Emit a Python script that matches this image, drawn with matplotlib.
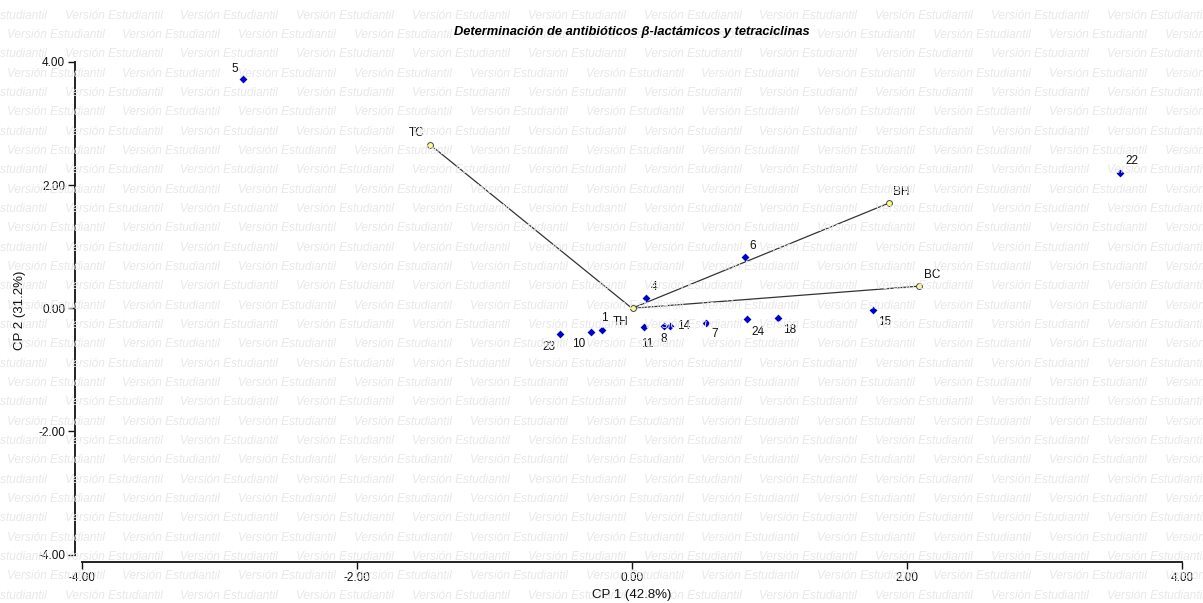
import numpy as np
import matplotlib
matplotlib.use("Agg")
import matplotlib.pyplot as plt

plt.rcParams['font.family'] = ['Liberation Sans', 'DejaVu Sans']

# observaciones (puntajes CP1, CP2)
obs_labels = ['5', '22', '6', '4', '15', '23', '10', '1', '11', '8', '14', '7', '24', '18']
obs_cp1 = [-2.83, 3.55, 0.82, 0.10, 1.75, -0.52, -0.30, -0.22, 0.09, 0.23, 0.28, 0.54, 0.84, 1.06]
obs_cp2 = [3.72, 2.20, 0.83, 0.16, -0.02, -0.41, -0.38, -0.36, -0.30, -0.29, -0.29, -0.24, -0.18, -0.15]

# variables (cargas)
var_labels = ['TC', 'BH', 'BC', 'TH']
var_cp1 = [-1.47, 1.87, 2.09, 0.005]
var_cp2 = [2.66, 1.71, 0.36, 0.0]

title = 'Determinación de antibióticos β-lactámicos y tetraciclinas'
xlabel = 'CP 1 (42.8%)'
ylabel = 'CP 2 (31.2%)'
ticks = [-4, -2, 0, 2, 4]

# label offsets in pixels
obs_off = {'5': (-8, 10), '22': (12, 12), '6': (8, 11), '4': (8, 11), '15': (12, -12),
           '23': (-12, -13), '10': (-12, -12), '1': (3, 12), '11': (3, -17), '8': (0, -13),
           '14': (13, 0), '7': (8, -11), '24': (11, -13), '18': (12, -12)}
var_off = {'TC': (-13, 12), 'BH': (12, 11), 'BC': (13, 11), 'TH': (-12, -14)}

W, H = 1203, 603
fig = plt.figure(figsize=(W / 100, H / 100), dpi=100)
fig.patch.set_facecolor('white')

# watermark
wm = 'Versión Estudiantil'
row = 0
y = 15.7
while y < H + 10:
    x0 = 65 if row % 2 == 0 else 7
    x = x0 - 116 * 2
    while x < W:
        fig.text(x / W, 1 - y / H, wm, fontsize=8.6, style='italic', color='#e8e8e8',
                 ha='left', va='center', zorder=0)
        x += 115.8
    y += 19.33
    row += 1

left, right, top, bottom = 75, 1185, 62, 562
ax = fig.add_axes([left / W, 1 - bottom / H, (right - left) / W, (bottom - top) / H])
ax.patch.set_alpha(0)
ax.set_xlim(-4.051, 4.022)
ax.set_ylim(-4.12, 4.0)

for s in ['top', 'right']:
    ax.spines[s].set_visible(False)
for s in ['left', 'bottom']:
    ax.spines[s].set_linewidth(1.4)
    ax.spines[s].set_color('#222222')
ax.spines['left'].set_bounds(-4, 4)
ax.spines['bottom'].set_bounds(-4, 4)

ax.set_xticks(ticks)
ax.set_yticks(ticks)
ax.set_xticklabels([f'{t:.2f}' for t in ticks])
ax.set_yticklabels([f'{t:.2f}' for t in ticks])
ax.tick_params(length=5, width=1, colors='#111111', labelsize=8.5, pad=2)

# vectores
for vx, vy in zip(var_cp1, var_cp2):
    ax.plot([0, vx], [0, vy], color='#333333', lw=0.9, zorder=2)

ax.scatter(obs_cp1, obs_cp2, marker='D', s=16, color='#0000cc', zorder=3, linewidths=0)
ax.scatter(var_cp1, var_cp2, marker='o', s=18, facecolor='#ffff88', edgecolor='#444444',
           linewidths=0.7, zorder=4)

for lab, vx, vy in zip(obs_labels, obs_cp1, obs_cp2):
    ax.annotate(lab, (vx, vy), xytext=obs_off[lab], textcoords='offset pixels',
                ha='center', va='center', fontsize=8.5, color='#111111', zorder=5)
for lab, vx, vy in zip(var_labels, var_cp1, var_cp2):
    ax.annotate(lab, (vx, vy), xytext=var_off[lab], textcoords='offset pixels',
                ha='center', va='center', fontsize=8.5, color='#111111', zorder=5)

fig.text(632 / W, 1 - 32 / H, title, fontsize=9.3, weight='bold', style='italic',
         ha='center', va='center', color='#000000')
fig.text(632 / W, 1 - 595 / H, xlabel, fontsize=9.5, ha='center', va='center', color='#111111')
fig.text(20 / W, 1 - 310 / H, ylabel, fontsize=9.5, rotation=90, ha='center', va='center',
         color='#111111')

fig.savefig('out.png', dpi=100)
